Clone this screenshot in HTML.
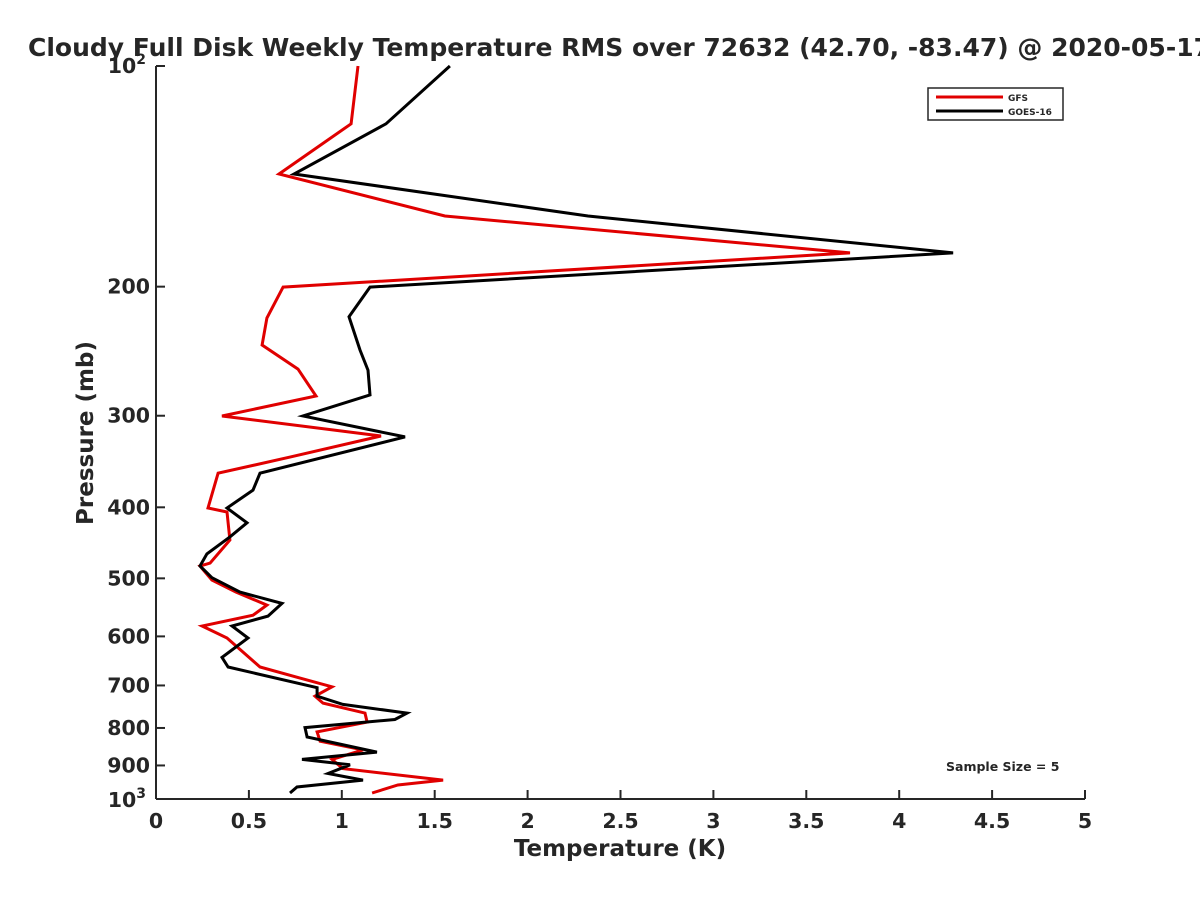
<!DOCTYPE html>
<html><head><meta charset="utf-8"><style>
body{margin:0;background:#fff;}
svg text{font-family:"DejaVu Sans","Liberation Sans",sans-serif;font-weight:bold;fill:#262626;}
</style></head><body>
<svg width="1200" height="900" xmlns="http://www.w3.org/2000/svg">
<g id="g"></g>
</svg>
<script>
const xTicks=[0,0.5,1,1.5,2,2.5,3,3.5,4,4.5,5];
const yTicks=[100,200,300,400,500,600,700,800,900,1000];
const gfsT=[1.087,1.050,0.662,1.555,3.735,0.684,0.597,0.571,0.764,0.861,0.355,1.211,0.721,0.334,0.280,0.382,0.398,0.291,0.237,0.301,0.431,0.597,0.522,0.248,0.382,0.560,0.775,0.947,0.856,0.899,1.125,1.136,0.867,0.883,1.114,0.947,1.006,1.545,1.302,1.163];
const gfsP=[100,119.9,140.4,160.2,179.9,200.3,220.7,240.2,259.1,282,300.3,319.7,341.6,359.3,400.9,406,443.3,476.6,481,502.8,522.1,543.8,561.4,580.8,603,660.6,684,703,724,740,763.4,785.3,810,834,857,883,909,942.4,957,981.3];
const goesT=[1.582,1.238,0.743,2.325,4.290,1.152,1.039,1.098,1.141,1.152,0.791,1.340,0.560,0.522,0.382,0.490,0.398,0.274,0.237,0.301,0.452,0.678,0.603,0.409,0.495,0.355,0.388,0.867,0.867,1.006,1.351,1.286,0.802,0.813,1.189,0.786,1.044,0.926,1.114,0.759,0.721];
const goesP=[100,119.9,140.4,160.2,179.9,200.3,219.8,244,260,281,300.3,320.6,359.3,379,400.9,420,439,463,481,499,522.1,541,563,580.8,603,641,660.6,705,724,743,763.4,779,799,823,863,883,898,923,942.4,963,981.3];
const X0=156,X1=1085,Y0=66,Y1=799;
const sx=v=>X0+(X1-X0)*v/5;
const sy=p=>Y0+(Y1-Y0)*Math.log10(p/100);
const NS="http://www.w3.org/2000/svg";
const g=document.getElementById('g');
function mk(t,a,txt){const e=document.createElementNS(NS,t);for(const k in a)e.setAttribute(k,a[k]);if(txt!==undefined)e.textContent=txt;g.appendChild(e);return e;}
let e;
e=mk('line',{x1:X0,y1:Y1,x2:X1,y2:Y1,stroke:'#262626','stroke-width':2});


e=mk('line',{x1:X0,y1:Y0,x2:X0,y2:Y1,stroke:'#262626','stroke-width':2});


xTicks.forEach(v=>{
 e=mk('line',{x1:sx(v),y1:Y1,x2:sx(v),y2:Y1-9,stroke:'#262626','stroke-width':2});
 
 
 e=mk('text',{x:sx(v),y:Y1+29,'font-size':'20.5','text-anchor':'middle'},String(v));
 
 
});
yTicks.forEach(p=>{
 e=mk('line',{x1:X0,y1:sy(p),x2:X0+9,y2:sy(p),stroke:'#262626','stroke-width':2});
 
 
 if(p===100||p===1000){
  e=mk('text',{x:X0-10,y:sy(p)+(p===100?7:8),'font-size':'20.5','text-anchor':'end'});
  e.innerHTML='10<tspan font-size="14" dy="-9">'+(p===100?2:3)+'</tspan>';
 } else e=mk('text',{x:X0-6,y:sy(p)+7,'font-size':'20.5','text-anchor':'end'},String(p));
 
 
});
e=mk('text',{x:620,y:856,'font-size':'23','text-anchor':'middle'},'Temperature (K)');


e=mk('text',{x:93,y:433,'font-size':'23','text-anchor':'middle',transform:'rotate(-90 93 433)'},'Pressure (mb)');


function line(T,P,c,name){
 const pts=T.map((t,i)=>sx(t).toFixed(1)+','+sy(P[i]).toFixed(1)).join(' ');
 const l=mk('polyline',{points:pts,fill:'none',stroke:c,'stroke-width':3,'stroke-linejoin':'miter'});
 
 
}
line(gfsT,gfsP,'#e00000','gfs-line');
line(goesT,goesP,'#000','goes16-line');
e=mk('text',{x:28,y:56,'font-size':'25',fill:'#000'},'Cloudy Full Disk Weekly Temperature RMS over 72632 (42.70, -83.47) @ 2020-05-17');


e=mk('rect',{x:928,y:88,width:135,height:32,fill:'#fff',stroke:'#262626','stroke-width':1.5});


e=mk('line',{x1:936,y1:97,x2:1003,y2:97,stroke:'#e00000','stroke-width':3});


e=mk('text',{x:1008,y:101,'font-size':'9',fill:'#000'},'GFS');


e=mk('line',{x1:936,y1:111,x2:1003,y2:111,stroke:'#000','stroke-width':3});


e=mk('text',{x:1008,y:115,'font-size':'9',fill:'#000'},'GOES-16');


e=mk('text',{x:946,y:771,'font-size':'12.5',fill:'#000'},'Sample Size = 5');


</script>
</body></html>
